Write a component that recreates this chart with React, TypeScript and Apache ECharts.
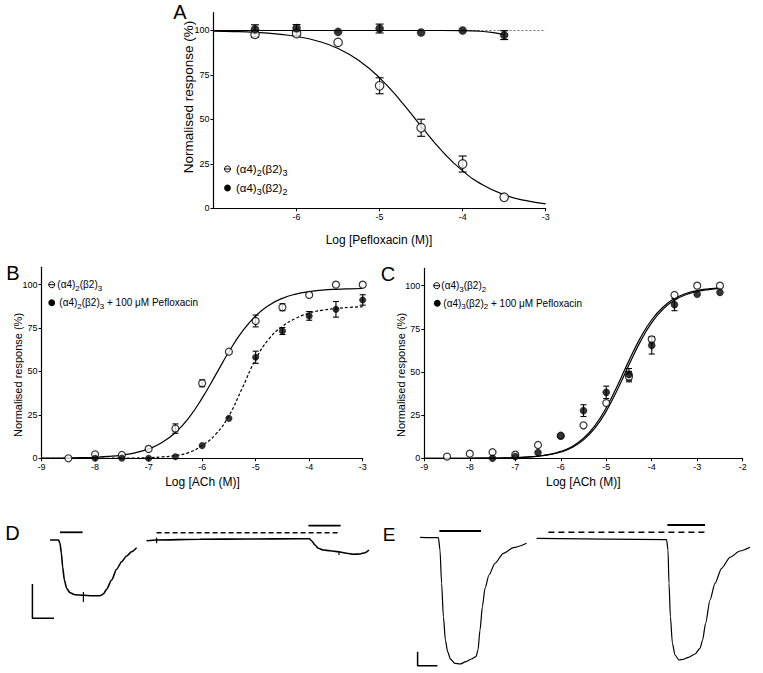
import React, { useEffect, useRef } from 'react';
import * as echarts from 'echarts';

const FONT = '"Liberation Sans", Arial, Helvetica, sans-serif';

// ---------- Panel A : Log [Pefloxacin (M)] ----------
const aDoses = [-6.5, -6, -5.5, -5, -4.5, -4, -3.5];
const aOpenMean = [97.8, 98.3, 93.3, 68.9, 45.3, 24.9, 6.2];
const aOpenErr = [1.5, 1, 0, 4.5, 4.8, 4.5, 0];
const aFilledMean = [100.7, 101.3, 99.2, 101.1, 98.9, 100, 97.4];
const aFilledErr = [2.5, 2, 0, 2.5, 0, 0, 2.5];
const aCurveX = [-7, -6.75, -6.5, -6.25, -6, -5.75, -5.5, -5.25, -5, -4.75, -4.5, -4.25, -4, -3.75, -3.5, -3.25, -3];
const aOpenCurve = [99.66, 99.4, 98.92, 98.08, 96.62, 94.09, 89.87, 83.17, 73.38, 60.59, 46.15, 32.33, 21.03, 12.93, 7.65, 4.41, 2.51];
const aFilledCurveX = [-7, -6.5, -6, -5.5, -5, -4.5, -4, -3.8, -3.65, -3.5];
const aFilledCurve = [100, 100, 100, 100, 100, 100, 99.9, 99.6, 98.9, 97.6];
const aXTicks = [-6, -5, -4, -3];

// ---------- Panel B : (α4)2(β2)3, Log [ACh (M)] ----------
const bOpenX = [-8.5, -8, -7.5, -7, -6.5, -6, -5.5, -5, -4.5, -4, -3.5, -3];
const bOpenMean = [0, 2.3, 1.9, 5.4, 17.1, 43.2, 61.4, 79.1, 87, 94.1, 100, 100];
const bOpenErr = [0, 0, 0, 0, 2.7, 2, 0, 3.4, 2, 0, 0, 0];
const bFilledX = [-8, -7.5, -7, -6.5, -6, -5.5, -5, -4.5, -4, -3.5, -3];
const bFilledMean = [0, 0, 0, 0.9, 7.3, 23, 58.2, 73.3, 82, 85.8, 91.2];
const bFilledErr = [0, 0, 0, 0, 0, 0, 3.5, 2, 2.5, 4.5, 3];
const bCurveX = [-9, -8.75, -8.5, -8.25, -8, -7.75, -7.5, -7.25, -7, -6.75, -6.5, -6.25, -6, -5.75, -5.5, -5.25, -5, -4.75, -4.5, -4.25, -4, -3.75, -3.5, -3.25, -3];
const bOpenCurve = [0.07, 0.11, 0.2, 0.35, 0.61, 1.06, 1.83, 3.16, 5.4, 9.07, 14.85, 23.33, 34.64, 47.9, 61.35, 73.05, 82.0, 88.17, 92.13, 94.56, 96.0, 96.85, 97.34, 97.62, 97.78];
const bFilledCurve = [0, 0, 0, 0.01, 0.02, 0.04, 0.08, 0.17, 0.36, 0.77, 1.6, 3.3, 7.4, 13.8, 24.5, 40.5, 57.0, 68.8, 76.0, 80.6, 83.6, 85.3, 86.3, 86.9, 87.3];
const bXTicks = [-9, -8, -7, -6, -5, -4, -3];

// ---------- Panel C : (α4)3(β2)2, Log [ACh (M)] ----------
const cOpenX = [-8.5, -8, -7.5, -7, -6.5, -6, -5.5, -5, -4.5, -4, -3.5, -3, -2.5];
const cOpenMean = [1.0, 2.7, 3.5, 2.1, 7.7, 13.1, 19.1, 32, 47.3, 68.9, 94.6, 100, 100];
const cOpenErr = [0, 0, 0, 0, 0, 0, 0, 0, 3, 1.5, 0, 0, 0];
const cFilledX = [-7.5, -7, -6.5, -6, -5.5, -5, -4.5, -4, -3.5, -3, -2.5];
const cFilledMean = [0, 1, 3.3, 12.9, 27.6, 38.2, 48.6, 65.4, 89, 95, 96.1];
const cFilledErr = [0, 0, 0, 0, 3.4, 3.6, 3.4, 5, 3.5, 0, 0];
const cCurveX = [-9, -8.75, -8.5, -8.25, -8, -7.75, -7.5, -7.25, -7, -6.75, -6.5, -6.25, -6, -5.75, -5.5, -5.25, -5, -4.75, -4.5, -4.25, -4, -3.75, -3.5, -3.25, -3, -2.75, -2.5];
const cOpenCurve = [0.0, 0.01, 0.01, 0.02, 0.04, 0.07, 0.13, 0.23, 0.41, 0.73, 1.3, 2.28, 3.98, 6.87, 11.59, 18.89, 29.27, 42.36, 56.58, 69.75, 80.25, 87.67, 92.48, 95.43, 97.17, 98.18, 98.75];
const cFilledCurve = [0.0, 0.01, 0.01, 0.02, 0.04, 0.07, 0.12, 0.21, 0.38, 0.67, 1.18, 2.08, 3.63, 6.28, 10.65, 17.47, 27.33, 40.02, 54.16, 67.59, 78.54, 86.42, 91.58, 94.77, 96.66, 97.75, 98.38];
const cXTicks = [-9, -8, -7, -6, -5, -4, -3, -2];

const yTicks = [0, 25, 50, 75, 100];

// ---------- Panel D : current traces (t in s, I in arbitrary units, baseline 0) ----------
const dTrace1 = [[25, 0], [29.3, 0], [30, -3.3], [30.7, -13.3], [31.3, -26.7], [32.2, -40], [33.3, -48.3], [35, -52.7], [37.5, -54.7], [41.7, -55.3], [45.8, -55.7], [50, -55.7], [51.7, -54], [53.3, -49.3], [55.8, -40], [58.3, -29.3], [60.8, -21.7], [63.3, -16], [65.8, -11.7], [68.3, -7.7]];
const dTrace2 = [[73.3, -0.7], [78.3, 0], [100, 0.7], [125, 1], [150, 1.3], [154.7, 1.3], [155.8, -0.7], [157.5, -5], [159.2, -8.3], [161.7, -10], [165, -10.7], [169.2, -11.7], [173.3, -13.3], [176.7, -14.3], [180, -14], [182.5, -12.7], [184.5, -10]];
const dArtifacts = [[[41.7, -52], [41.7, -62]], [[78.3, 2.3], [78.3, -3.3]], [[169.5, -11.7], [169.5, -15]]];
const dAchBar1 = [[30, 7.7], [41.3, 7.7]];
const dPefBar = [[78.3, 7.3], [170.3, 7.3]];
const dAchBar2 = [[154.2, 14.3], [170.3, 14.3]];
const dScale = [[16.2, -44], [16.2, -78.3], [27, -78.3]];

// ---------- Panel E ----------
const eTrace1 = [[20, 0.7], [29.2, 0.3], [30, -12], [30.8, -45.3], [31.7, -78.7], [32.7, -102], [33.8, -113.7], [35.3, -121.3], [37.5, -125.3], [40, -126], [43, -123.7], [45.8, -121], [48, -118.7], [49, -112], [50, -92], [51.2, -68.7], [52.5, -50.3], [54.5, -37], [57.5, -25.3], [61.7, -15.3], [66.7, -9.7], [73.3, -5.3]];
const eTrace2 = [[78.3, -0.3], [143.3, -1.7], [144, -12], [144.5, -45.3], [145.2, -78.7], [146.2, -105.3], [147.5, -117], [149.5, -122], [151.7, -121.3], [154.2, -119.3], [157.5, -116], [160, -110.3], [161.3, -102], [162.8, -85.3], [165, -62], [167.5, -45.3], [170.8, -30.3], [175, -19.3], [180, -13], [185, -9.3]];
const eAchBar1 = [[29.7, 7], [50.5, 7]];
const ePefBar = [[84.2, 5.7], [162.5, 5.7]];
const eAchBar2 = [[143.7, 13], [162.5, 13]];
const eScale = [[18.8, -113.7], [18.8, -127.7], [28.7, -127.7]];

const zip = (xs: number[], ys: number[]) => xs.map((x, i) => [x, ys[i]]);

function errorSeries(idx: number, xs: number[], means: number[], errs: number[], cap: number) {
  const data = xs
    .map((x, i) => [x, means[i] - errs[i], means[i] + errs[i], errs[i]])
    .filter((d) => d[3] > 0);
  return {
    type: 'custom',
    xAxisIndex: idx,
    yAxisIndex: idx,
    data,
    encode: { x: 0, y: [1, 2] },
    silent: true,
    z: 2,
    renderItem: (params: any, api: any) => {
      const x = api.value(0);
      const lo = api.coord([x, api.value(1)]);
      const hi = api.coord([x, api.value(2)]);
      const style = { stroke: '#000', lineWidth: 1.1 };
      return {
        type: 'group',
        children: [
          { type: 'line', shape: { x1: lo[0], y1: lo[1], x2: hi[0], y2: hi[1] }, style },
          { type: 'line', shape: { x1: hi[0] - cap / 2, y1: hi[1], x2: hi[0] + cap / 2, y2: hi[1] }, style },
          { type: 'line', shape: { x1: lo[0] - cap / 2, y1: lo[1], x2: lo[0] + cap / 2, y2: lo[1] }, style },
        ],
      };
    },
  };
}

function scatter(idx: number, xs: number[], ys: number[], open: boolean, size: number) {
  return {
    type: 'scatter',
    xAxisIndex: idx,
    yAxisIndex: idx,
    data: zip(xs, ys),
    symbol: 'circle',
    symbolSize: size,
    z: 4,
    itemStyle: open
      ? { color: '#fff', borderColor: '#000', borderWidth: 1.2 }
      : { color: '#000', borderColor: '#000', borderWidth: 0.5 },
  };
}

function line(idx: number, data: number[][], opts: any = {}) {
  const s: any = {
    type: 'line',
    xAxisIndex: idx,
    yAxisIndex: idx,
    data,
    showSymbol: false,
    symbol: 'none',
    smooth: opts.smooth ?? false,
    silent: true,
    z: opts.z ?? 3,
    lineStyle: { color: opts.color ?? '#000', width: opts.width ?? 1.2, type: opts.type ?? 'solid' },
  };
  if (opts.monotone) s.smoothMonotone = 'x';
  return s;
}

function xAxisFor(idx: number, min: number, max: number, ticks: number[]) {
  return {
    type: 'value',
    gridIndex: idx,
    min,
    max,
    axisLine: { show: true, onZero: false, lineStyle: { color: '#000', width: 1.2 } },
    axisTick: { show: true, length: 3, customValues: ticks, lineStyle: { color: '#000', width: 1 } },
    axisLabel: { customValues: ticks, fontSize: 9, color: '#000', margin: 4, fontFamily: FONT },
    splitLine: { show: false },
  };
}

function yAxisFor(idx: number) {
  return {
    type: 'value',
    gridIndex: idx,
    min: 0,
    max: 110,
    axisLine: { show: true, onZero: false, lineStyle: { color: '#000', width: 1.2 } },
    axisTick: { show: true, length: 3, customValues: yTicks, lineStyle: { color: '#000', width: 1 } },
    axisLabel: { customValues: yTicks, fontSize: 9, color: '#000', margin: 4, fontFamily: FONT },
    splitLine: { show: false },
  };
}

function hiddenAxis(idx: number, min: number, max: number) {
  return { type: 'value', gridIndex: idx, min, max, show: false, splitLine: { show: false } };
}

function legendItem(mx: number, my: number, open: boolean, tx: number, text: string, fontSize: number, r: number) {
  const els: any[] = [];
  if (open) {
    els.push({ type: 'circle', shape: { cx: mx, cy: my, r }, style: { fill: '#fff', stroke: '#000', lineWidth: 1 } });
    els.push({ type: 'line', shape: { x1: mx - r, y1: my, x2: mx + r, y2: my }, style: { stroke: '#000', lineWidth: 1 } });
  } else {
    els.push({ type: 'circle', shape: { cx: mx, cy: my, r: r + 0.4 }, style: { fill: '#000' } });
  }
  els.push({
    type: 'text',
    x: tx,
    y: my,
    style: {
      text,
      fontSize,
      fontFamily: FONT,
      fill: '#000',
      align: 'left',
      verticalAlign: 'middle',
      rich: { s: { fontSize: Math.round(fontSize * 0.75), fontFamily: FONT, fill: '#000', padding: [7, 0, 0, 0] } },
    },
  });
  return els;
}

function label(x: number, y: number, text: string, fontSize: number, rotate = false) {
  return {
    type: 'text',
    x,
    y,
    rotation: rotate ? Math.PI / 2 : 0,
    style: { text, fontSize, fontFamily: FONT, fill: '#000', align: 'center', verticalAlign: 'middle' },
  };
}

const LEG_OPEN_A = '(α4){s|2}(β2){s|3}';
const LEG_FILL_A = '(α4){s|3}(β2){s|2}';
const LEG_FILL_B = '(α4){s|2}(β2){s|3} + 100 μM Pefloxacin';
const LEG_OPEN_C = '(α4){s|3}(β2){s|2}';
const LEG_FILL_C = '(α4){s|3}(β2){s|2} + 100 μM Pefloxacin';

export default function App() {
  const ref = useRef<HTMLDivElement>(null);
  useEffect(() => {
    if (!ref.current) return;
    const chart = echarts.init(ref.current, undefined, { renderer: 'svg' });
    const option: any = {
      animation: false,
      backgroundColor: '#fff',
      textStyle: { fontFamily: FONT },
      grid: [
        { left: 213.5, top: 12.7, width: 332.2, height: 195.6 },
        { left: 41.6, top: 267.3, width: 321.1, height: 191 },
        { left: 424.3, top: 268.4, width: 318.4, height: 189.9 },
        { left: 0, top: 500, width: 380, height: 173 },
        { left: 380, top: 500, width: 383, height: 173 },
      ],
      xAxis: [
        xAxisFor(0, -7, -3, aXTicks),
        xAxisFor(1, -9, -3, bXTicks),
        xAxisFor(2, -9, -2, cXTicks),
        hiddenAxis(3, 0, 190),
        hiddenAxis(4, 0, 191.5),
      ],
      yAxis: [yAxisFor(0), yAxisFor(1), yAxisFor(2), hiddenAxis(3, -133, 40), hiddenAxis(4, -135, 38)],
      series: [
        // Panel A
        line(0, [[-7, 100], [-3, 100]], { width: 0.7, type: [2, 2], color: '#333', z: 1 }),
        line(0, zip(aCurveX, aOpenCurve), { smooth: 0.5 }),
        line(0, zip(aFilledCurveX, aFilledCurve), { smooth: 0.5 }),
        errorSeries(0, aDoses, aOpenMean, aOpenErr, 8),
        errorSeries(0, aDoses, aFilledMean, aFilledErr, 8),
        scatter(0, aDoses, aOpenMean, true, 8.5),
        scatter(0, aDoses, aFilledMean, false, 8),
        // Panel B
        line(1, zip(bCurveX, bOpenCurve), { smooth: 0.5 }),
        line(1, zip(bCurveX, bFilledCurve), { smooth: 0.5, type: [3, 2] }),
        errorSeries(1, bOpenX, bOpenMean, bOpenErr, 6),
        errorSeries(1, bFilledX, bFilledMean, bFilledErr, 6),
        scatter(1, bOpenX, bOpenMean, true, 7),
        scatter(1, bFilledX, bFilledMean, false, 6.5),
        // Panel C
        line(2, zip(cCurveX, cOpenCurve), { smooth: 0.5 }),
        line(2, zip(cCurveX, cFilledCurve), { smooth: 0.5 }),
        errorSeries(2, cOpenX, cOpenMean, cOpenErr, 6),
        errorSeries(2, cFilledX, cFilledMean, cFilledErr, 6),
        scatter(2, cOpenX, cOpenMean, true, 7),
        scatter(2, cFilledX, cFilledMean, false, 7),
        // Panel D
        line(3, dTrace1, { smooth: 0.25, monotone: true, width: 1.6 }),
        line(3, dTrace2, { smooth: 0.25, monotone: true, width: 1.6 }),
        ...dArtifacts.map((a) => line(3, a, { width: 1.2 })),
        line(3, dAchBar1, { width: 1.8 }),
        line(3, dAchBar2, { width: 1.8 }),
        line(3, dPefBar, { width: 1.6, type: [5, 3] }),
        line(3, dScale, { width: 1.5 }),
        // Panel E
        line(4, eTrace1, { smooth: 0.25, monotone: true, width: 1.2 }),
        line(4, eTrace2, { smooth: 0.25, monotone: true, width: 1.2 }),
        line(4, eAchBar1, { width: 1.8 }),
        line(4, eAchBar2, { width: 1.8 }),
        line(4, ePefBar, { width: 1.6, type: [6, 4] }),
        line(4, eScale, { width: 1.5 }),
      ],
      graphic: [
        label(180, 12, 'A', 20),
        label(13, 273, 'B', 20),
        label(388, 274, 'C', 20),
        label(12.5, 533, 'D', 20),
        label(389, 534, 'E', 19),
        label(188.3, 97, 'Normalised response (%)', 13.5, true),
        label(379, 240, 'Log [Pefloxacin (M)]', 12),
        label(18.3, 375, 'Normalised response (%)', 11, true),
        label(202.5, 481.7, 'Log [ACh (M)]', 12),
        label(400.7, 375, 'Normalised response (%)', 11, true),
        label(583.3, 481.7, 'Log [ACh (M)]', 12),
        ...legendItem(227.5, 169, true, 236, LEG_OPEN_A, 11.5, 3),
        ...legendItem(227.5, 188, false, 236, LEG_FILL_A, 11.5, 3),
        ...legendItem(51.7, 284.7, true, 57.3, LEG_OPEN_A, 10, 3),
        ...legendItem(51.7, 302.7, false, 59.3, LEG_FILL_B, 10, 3),
        ...legendItem(436.7, 285.7, true, 441.3, LEG_OPEN_C, 10, 3),
        ...legendItem(437.3, 303.3, false, 443.3, LEG_FILL_C, 10, 3),
      ],
    };
    chart.setOption(option);
    return () => chart.dispose();
  }, []);
  return <div ref={ref} style={{ position: 'fixed', left: 0, top: 0, width: 763, height: 673, background: '#fff' }} />;
}
